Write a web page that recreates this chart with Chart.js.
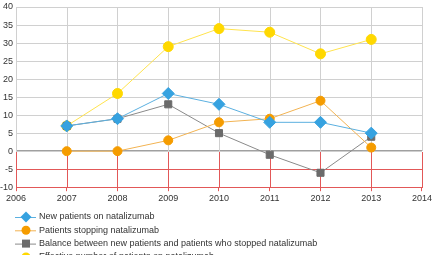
<!DOCTYPE html>
<html>
<head>
<meta charset="utf-8">
<script src="https://cdn.jsdelivr.net/npm/chart.js@4"></script>
<style>
  html, body { margin: 0; padding: 0; background: #fff; }
  canvas { display: block; }
</style>
</head>
<body>
<canvas id="chart" width="434" height="255"></canvas>
<script>
// values
const years = [2007, 2008, 2009, 2010, 2011, 2012, 2013];
const newPatients = [7, 9, 16, 13, 8, 8, 5];
const stoppingPatients = [0, 0, 3, 8, 9, 14, 1];
const balance = [7, 9, 13, 5, -1, -6, 4];
const effective = [7, 16, 29, 34, 33, 27, 31];
const seriesNames = [
  'New patients on natalizumab',
  'Patients stopping natalizumab',
  'Balance between new patients and patients who stopped natalizumab',
  'Effective number of patients on natalizumab'
];

const toPoints = vals => vals.map((v, i) => ({ x: years[i], y: v }));

// vertical grid: gray above zero, red below
const yearGrid = {
  id: 'yearGrid',
  beforeDatasetsDraw(chart) {
    const { ctx, chartArea, scales } = chart;
    const x = scales.x, y = scales.y;
    const y0 = Math.round(y.getPixelForValue(0));
    const bottom = Math.round(chartArea.bottom);
    const top = Math.round(chartArea.top);
    ctx.save();
    x.ticks.forEach(t => {
      const px = Math.round(x.getPixelForValue(t.value));
      ctx.fillStyle = '#d0d0d0';
      ctx.fillRect(px, top, 1, y0 - top);
      ctx.fillStyle = '#e25858';
      ctx.fillRect(px, y0 + 1, 1, bottom - y0);
    });
    ctx.restore();
  }
};

function drawMarker(ctx, style, x, y) {
  ctx.beginPath();
  if (style === 'rectRot') {
    ctx.moveTo(x, y - 5.5); ctx.lineTo(x + 5.5, y); ctx.lineTo(x, y + 5.5); ctx.lineTo(x - 5.5, y);
    ctx.closePath();
  } else if (style === 'rect') {
    ctx.rect(x - 4, y - 4, 8, 8);
  } else {
    ctx.arc(x, y, 4.5, 0, Math.PI * 2);
  }
  ctx.fill();
}

// vertical legend under the axis
const sideLegend = {
  id: 'sideLegend',
  afterDraw(chart) {
    const { ctx } = chart;
    ctx.save();
    ctx.font = '9px "Liberation Sans", Arial, sans-serif';
    ctx.textBaseline = 'middle';
    chart.data.datasets.forEach((ds, i) => {
      const yy = 217 + i * 13.3;
      ctx.strokeStyle = ds.borderColor;
      ctx.lineWidth = 1;
      ctx.beginPath();
      ctx.moveTo(15, yy + 0.5);
      ctx.lineTo(36, yy + 0.5);
      ctx.stroke();
      ctx.fillStyle = ds.pointBackgroundColor;
      drawMarker(ctx, ds.pointStyle, 26, yy);
      ctx.fillStyle = '#333';
      ctx.fillText(seriesNames[i], 39, yy);
    });
    ctx.restore();
  }
};

new Chart(document.getElementById('chart'), {
  type: 'line',
  data: {
    datasets: [
      {
        label: seriesNames[0],
        data: toPoints(newPatients),
        borderColor: '#5bb0e0',
        borderWidth: 1,
        pointStyle: 'rectRot',
        pointRadius: 6,
        pointBackgroundColor: '#36a2e0',
        pointBorderColor: '#36a2e0'
      },
      {
        label: seriesNames[1],
        data: toPoints(stoppingPatients),
        borderColor: '#f2b352',
        borderWidth: 1,
        pointStyle: 'circle',
        pointRadius: 4.5,
        pointBackgroundColor: '#f59c00',
        pointBorderColor: '#f59c00'
      },
      {
        label: seriesNames[2],
        data: toPoints(balance),
        borderColor: '#8a8a8a',
        borderWidth: 1,
        pointStyle: 'rect',
        pointRadius: 5,
        pointBackgroundColor: '#6b6b6b',
        pointBorderColor: '#6b6b6b'
      },
      {
        label: seriesNames[3],
        data: toPoints(effective),
        borderColor: '#ffe34d',
        borderWidth: 1,
        pointStyle: 'circle',
        pointRadius: 5,
        pointBackgroundColor: '#ffd800',
        pointBorderColor: '#ffd800'
      }
    ]
  },
  options: {
    responsive: false,
    animation: false,
    layout: { padding: { left: 0, right: 0, top: 3, bottom: 49 } },
    plugins: { legend: { display: false }, tooltip: { enabled: false } },
    elements: { line: { tension: 0 } },
    scales: {
      x: {
        type: 'linear',
        min: 2006,
        max: 2014,
        border: { display: false },
        grid: { drawOnChartArea: false, tickColor: '#e25858', tickLength: 4 },
        ticks: {
          stepSize: 1,
          autoSkip: false,
          maxRotation: 0,
          padding: 2,
          color: '#333',
          font: { family: '"Liberation Sans", Arial, sans-serif', size: 9 },
          callback: v => String(v)
        }
      },
      y: {
        min: -10,
        max: 40,
        border: { display: false },
        afterFit: scale => { scale.width = 16; scale.paddingTop = 0; scale.paddingBottom = 0; },
        grid: {
          drawTicks: false,
          color: c => c.tick.value < 0 ? '#e25858' : (c.tick.value === 0 ? '#a0a0a0' : '#d0d0d0'),
          lineWidth: c => c.tick.value === 0 ? 1.5 : 1
        },
        ticks: {
          stepSize: 5,
          padding: 3,
          color: '#333',
          font: { family: '"Liberation Sans", Arial, sans-serif', size: 9 }
        }
      }
    }
  },
  plugins: [yearGrid, sideLegend]
});
</script>
</body>
</html>
